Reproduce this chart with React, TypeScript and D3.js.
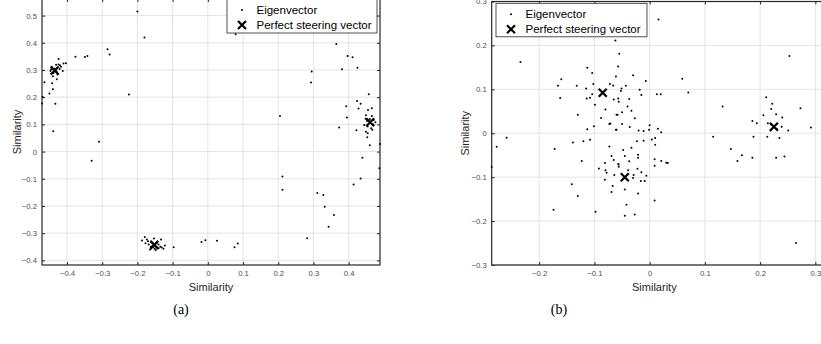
import React, { useEffect, useRef } from "react";
import * as d3 from "d3";

// panel (a)
const eigenvectorA: [number, number][] = [
  [-0.2, 0.515], [-0.18, 0.419], [-0.285, 0.376], [-0.279, 0.357], [-0.376, 0.349], [-0.349, 0.348],
  [-0.342, 0.351], [-0.224, 0.21], [-0.309, 0.036], [-0.33, -0.034], [-0.439, 0.075], [-0.433, 0.176],
  [-0.45, 0.214], [-0.44, 0.229], [-0.442, 0.251], [-0.464, 0.255], [-0.469, 0.201], [-0.471, 0.177],
  [-0.424, 0.34], [-0.41, 0.324], [-0.403, 0.325], [-0.412, 0.296], [-0.42, 0.317], [-0.429, 0.266],
  [-0.44, 0.277], [-0.443, 0.311], [-0.431, 0.319], [-0.421, 0.304], [-0.438, 0.289], [-0.427, 0.283],
  [-0.447, 0.296], [-0.424, 0.32], [-0.436, 0.305], [-0.43, 0.295], [-0.417, 0.312], [-0.445, 0.302],
  [0.079, 0.431], [0.365, 0.396], [0.397, 0.351], [0.411, 0.347], [0.381, 0.303], [0.425, 0.308],
  [0.295, 0.294], [0.293, 0.254], [0.205, 0.131], [0.457, 0.211], [0.424, 0.186], [0.434, 0.176],
  [0.393, 0.167], [0.428, 0.158], [0.466, 0.159], [0.455, 0.153], [0.395, 0.125], [0.373, 0.089],
  [0.422, 0.078], [0.453, 0.053], [0.46, 0.023], [0.489, 0.028], [0.439, -0.023], [0.487, -0.061],
  [0.449, 0.134], [0.466, 0.131], [0.471, 0.116], [0.444, 0.098], [0.454, 0.092], [0.464, 0.086],
  [0.449, 0.073], [0.454, 0.067], [0.47, 0.1], [0.46, 0.12], [0.452, 0.112], [0.476, 0.108],
  [0.448, 0.121], [0.467, 0.08],
  [0.212, -0.092], [0.212, -0.14], [0.282, -0.319], [0.311, -0.152], [0.328, -0.16], [0.332, -0.203],
  [0.358, -0.233], [0.343, -0.276], [0.414, -0.121], [0.434, -0.099],
  [0.026, -0.328], [0.076, -0.352], [0.085, -0.338], [-0.018, -0.332], [-0.007, -0.326], [-0.097, -0.352],
  [-0.179, -0.314], [-0.187, -0.327], [-0.173, -0.323], [-0.153, -0.32], [-0.133, -0.323], [-0.164, -0.36],
  [-0.151, -0.357], [-0.131, -0.353], [-0.122, -0.345], [-0.168, -0.342], [-0.159, -0.334], [-0.14, -0.342],
  [-0.135, -0.35], [-0.157, -0.346], [-0.177, -0.337], [-0.155, -0.352], [-0.126, -0.357], [-0.145, -0.335],
  [-0.162, -0.35], [-0.148, -0.362], [-0.17, -0.33], [-0.14, -0.355],
];
const steeringA: [number, number][] = [[-0.435, 0.298], [0.461, 0.108], [-0.152, -0.343]];
const xTicksA = [-0.4, -0.3, -0.2, -0.1, 0, 0.1, 0.2, 0.3, 0.4];
const yTicksA = [-0.4, -0.3, -0.2, -0.1, 0, 0.1, 0.2, 0.3, 0.4, 0.5];

// panel (b)
const eigenvectorB: [number, number][] = [
  [-0.234, 0.162], [-0.259, -0.01], [-0.277, -0.031], [-0.286, -0.077], [-0.16, 0.123], [-0.166, 0.108],
  [-0.162, 0.08], [-0.132, 0.108], [-0.113, 0.149], [-0.104, 0.137], [-0.102, 0.112], [-0.115, 0.102],
  [-0.114, 0.079], [-0.108, 0.081], [-0.104, 0.089], [-0.099, 0.065], [-0.13, 0.042], [-0.088, 0.035],
  [-0.08, 0.054], [-0.101, 0.016], [-0.113, 0.009], [-0.108, -0.015], [-0.12, -0.018], [-0.139, -0.021],
  [-0.172, -0.036], [-0.123, -0.063], [-0.073, 0.021], [-0.06, 0.042], [-0.061, 0.008], [-0.065, 0.077],
  [-0.057, 0.079], [-0.056, 0.072], [-0.072, 0.112], [-0.066, 0.109], [-0.057, 0.152], [-0.061, 0.129],
  [-0.055, 0.181], [-0.062, 0.211], [-0.073, -0.03], [-0.069, -0.052], [-0.065, -0.061], [-0.081, -0.068],
  [-0.056, -0.071], [-0.092, -0.08],
  [0.016, 0.259], [-0.03, 0.132], [-0.007, 0.119], [-0.043, 0.108], [-0.051, 0.102], [-0.052, 0.096],
  [-0.018, 0.099], [-0.015, 0.087], [-0.037, 0.078], [-0.04, 0.061], [-0.033, 0.051], [-0.05, 0.048],
  [-0.058, 0.042], [-0.027, 0.034], [-0.071, 0.022], [-0.05, 0.021], [-0.036, 0.014], [-0.06, 0.008],
  [-0.02, 0.006], [-0.011, 0.005], [-0.001, 0.008], [0.0, 0.018], [0.015, 0.01], [0.021, 0.002],
  [0.013, 0.089], [0.02, 0.089], [0.059, 0.124], [0.07, 0.093],
  [-0.048, -0.038], [-0.033, -0.033], [-0.023, -0.018], [-0.011, -0.017], [0.004, -0.014], [0.01, -0.011],
  [0.01, -0.026], [-0.045, -0.052], [-0.021, -0.049], [-0.021, -0.056], [-0.037, -0.064], [-0.057, -0.07],
  [0.009, -0.059], [0.021, -0.063], [0.03, -0.067], [0.033, -0.068], [0.009, -0.074],
  [-0.141, -0.116], [-0.13, -0.143], [-0.174, -0.174], [-0.098, -0.179], [-0.08, -0.084], [-0.078, -0.09],
  [-0.081, -0.106], [-0.056, -0.076], [-0.064, -0.095], [-0.067, -0.12], [-0.069, -0.134],
  [-0.039, -0.084], [-0.022, -0.081], [-0.015, -0.089], [-0.029, -0.095], [-0.006, -0.097], [-0.03, -0.102],
  [-0.016, -0.109], [-0.009, -0.109], [-0.045, -0.128], [-0.021, -0.137], [0.009, -0.153], [-0.042, -0.163],
  [-0.027, -0.185], [-0.045, -0.188],
  [0.132, 0.061], [0.115, -0.008], [0.147, -0.036], [0.167, -0.05], [0.159, -0.063], [0.186, -0.056],
  [0.186, 0.028], [0.194, 0.023], [0.188, -0.008], [0.211, 0.082], [0.222, 0.067], [0.22, 0.055],
  [0.206, 0.041], [0.229, 0.043], [0.24, 0.036], [0.214, 0.023], [0.239, 0.015], [0.251, 0.006],
  [0.219, 0.006], [0.213, -0.008], [0.235, -0.011], [0.229, -0.056], [0.244, -0.053], [0.253, 0.176],
  [0.273, 0.057], [0.292, 0.013], [0.265, -0.25], [0.23, 0.01], [0.22, 0.02],
];
const steeringB: [number, number][] = [[-0.085, 0.092], [-0.045, -0.1], [0.225, 0.015]];
const xTicksB = [-0.2, -0.1, 0, 0.1, 0.2, 0.3];
const yTicksB = [-0.3, -0.2, -0.1, 0, 0.1, 0.2, 0.3];

const legendLabels = ["Eigenvector", "Perfect steering vector"];

const panels = [
  {
    caption: "(a)", eig: eigenvectorA, steer: steeringA, xTicks: xTicksA, yTicks: yTicksA,
    xDomain: [-0.471, 0.489], yDomain: [-0.417, 0.561],
    left: 42, right: 380, top: -1, bottom: 265,
    legend: { x: 227, y: -1, w: 150, h: 34 }, ylabelX: 17, captionX: 181,
  },
  {
    caption: "(b)", eig: eigenvectorB, steer: steeringB, xTicks: xTicksB, yTicks: yTicksB,
    xDomain: [-0.286, 0.3193], yDomain: [-0.3, 0.3],
    left: 491.7, right: 826, top: 1.5, bottom: 265,
    legend: { x: 496, y: 3.3, w: 151, h: 33.5 }, ylabelX: 465, captionX: 559,
  },
];

const font = "'Liberation Sans', Arial, Helvetica, sans-serif";
const crossPath = "M-4,-4L4,4M-4,4L4,-4";

const App = () => {
  const svgRef = useRef<SVGSVGElement>(null);

  useEffect(() => {
    const svg = d3.select(svgRef.current);
    svg.selectAll("*").remove();

    panels.forEach((p) => {
      const x = d3.scaleLinear().domain(p.xDomain).range([p.left, p.right]);
      const y = d3.scaleLinear().domain(p.yDomain).range([p.bottom, p.top]);
      const g = svg.append("g");

      // grid
      g.append("g")
        .selectAll("line")
        .data(p.xTicks)
        .join("line")
        .attr("x1", (d) => x(d)).attr("x2", (d) => x(d))
        .attr("y1", p.top).attr("y2", p.bottom)
        .attr("stroke", "#e3e3e3").attr("stroke-width", 1);
      g.append("g")
        .selectAll("line")
        .data(p.yTicks)
        .join("line")
        .attr("x1", p.left).attr("x2", p.right)
        .attr("y1", (d) => y(d)).attr("y2", (d) => y(d))
        .attr("stroke", "#e3e3e3").attr("stroke-width", 1);

      // axes (ticks pointing inward)
      const styleAxis = (a: any) => {
        a.select(".domain").remove();
        a.selectAll("line").attr("stroke", "#262626");
        a.selectAll("text").attr("fill", "#4d4d4d").style("font", `7.7px ${font}`);
      };
      g.append("g")
        .attr("transform", `translate(0,${p.bottom})`)
        .call(d3.axisBottom(x).tickValues(p.xTicks).tickSize(-3).tickPadding(6).tickFormat(d3.format("")))
        .call(styleAxis);
      g.append("g")
        .attr("transform", `translate(${p.left},0)`)
        .call(d3.axisLeft(y).tickValues(p.yTicks).tickSize(-3).tickPadding(5).tickFormat(d3.format("")))
        .call(styleAxis);
      g.append("g")
        .attr("transform", `translate(0,${p.top})`)
        .call(d3.axisTop(x).tickValues(p.xTicks).tickSize(-3).tickFormat(() => ""))
        .call(styleAxis);
      g.append("g")
        .attr("transform", `translate(${p.right},0)`)
        .call(d3.axisRight(y).tickValues(p.yTicks).tickSize(-3).tickFormat(() => ""))
        .call(styleAxis);

      g.append("rect")
        .attr("x", p.left).attr("y", p.top)
        .attr("width", p.right - p.left).attr("height", p.bottom - p.top)
        .attr("fill", "none").attr("stroke", "#262626").attr("stroke-width", 1.2);

      // points
      g.append("g")
        .selectAll("circle")
        .data(p.eig)
        .join("circle")
        .attr("cx", (d) => x(d[0])).attr("cy", (d) => y(d[1]))
        .attr("r", 1).attr("fill", "#000");
      g.append("g")
        .selectAll("path")
        .data(p.steer)
        .join("path")
        .attr("transform", (d) => `translate(${x(d[0])},${y(d[1])})`)
        .attr("d", crossPath)
        .attr("stroke", "#000").attr("stroke-width", 2.2).attr("fill", "none");

      // axis labels
      g.append("text")
        .attr("x", (p.left + Math.min(p.right, 817)) / 2).attr("y", 291)
        .attr("text-anchor", "middle").attr("fill", "#262626")
        .style("font", `11px ${font}`).text("Similarity");
      g.append("text")
        .attr("transform", `translate(${p.ylabelX + 4},${(p.top + p.bottom) / 2}) rotate(-90)`)
        .attr("text-anchor", "middle").attr("fill", "#262626")
        .style("font", `11px ${font}`).text("Similarity");

      // legend
      const L = p.legend;
      const lg = g.append("g").attr("transform", `translate(${L.x},${L.y})`);
      lg.append("rect").attr("width", L.w).attr("height", L.h)
        .attr("fill", "#fff").attr("stroke", "#262626").attr("stroke-width", 0.8);
      lg.append("circle").attr("cx", 15).attr("cy", 11).attr("r", 1).attr("fill", "#000");
      lg.append("path").attr("transform", "translate(15,26)").attr("d", crossPath)
        .attr("stroke", "#000").attr("stroke-width", 2.2).attr("fill", "none");
      lg.selectAll("text.lbl")
        .data(legendLabels)
        .join("text")
        .attr("x", 29.5).attr("y", (d, i) => 11 + i * 15)
        .attr("dy", "0.35em").attr("fill", "#000")
        .style("font", `11.5px ${font}`).text((d) => d);

      // caption
      svg.append("text")
        .attr("x", p.captionX).attr("y", 314)
        .attr("text-anchor", "middle").attr("fill", "#000")
        .style("font", "14px 'Liberation Serif', 'Times New Roman', serif")
        .text(p.caption);
    });
  }, []);

  return (
    <svg
      ref={svgRef}
      width={821}
      height={344}
      style={{ position: "absolute", left: 0, top: 0, background: "#fff" }}
    />
  );
};

export default App;
